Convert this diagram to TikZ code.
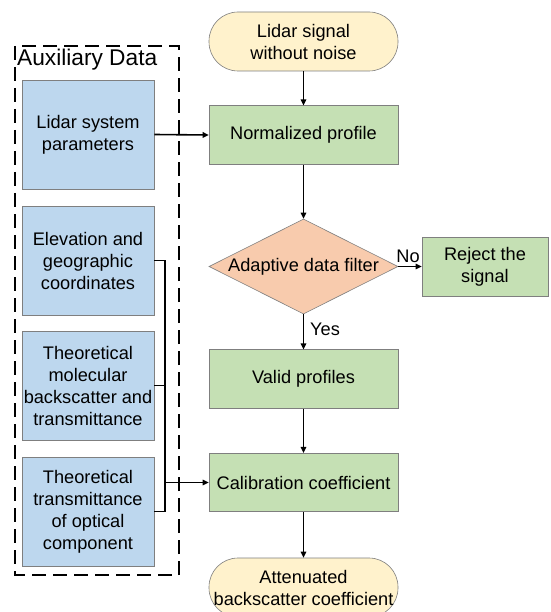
\documentclass[tikz,border=0pt]{standalone}
\usepackage{fontspec}
\setmainfont{Liberation Sans}
\usetikzlibrary{shapes.geometric,arrows.meta}
\definecolor{auxblue}{HTML}{BDD7EE}
\definecolor{procgreen}{HTML}{C5E0B4}
\definecolor{decorange}{HTML}{F8CBAD}
\definecolor{termyellow}{HTML}{FFF2CC}
\definecolor{edgegray}{HTML}{7F7F7F}
\tikzset{
  base/.style={draw=edgegray, line width=0.6pt, inner sep=0pt, align=center, font=\fontsize{18.2}{22}\selectfont},
  auxbox/.style={base, fill=auxblue, minimum width=132pt, minimum height=109pt},
  procbox/.style={base, fill=procgreen, minimum width=189pt, minimum height=58.5pt},
  termbox/.style={base, fill=termyellow, minimum width=189pt, minimum height=59pt, rounded corners=29pt},
  decbox/.style={base, shape=diamond, fill=decorange, minimum width=189pt, minimum height=95pt},
  conn/.style={line width=1.6pt, -{Triangle[length=6pt,width=5.5pt]}},
  line/.style={line width=1.6pt},
  lbl/.style={font=\fontsize{18.2}{22}\selectfont, inner sep=0pt}
}
\begin{document}
\begin{tikzpicture}[x=1pt,y=-1pt]
\clip (0,0) rectangle (550,612);
\fill[white] (0,0) rectangle (550,612);
% auxiliary frame
\draw[line width=2pt, dash pattern=on 14pt off 7pt] (15,46) rectangle (179,575);
\node[anchor=west, inner sep=0pt, font=\fontsize{22.7}{26}\selectfont] (auxtitle) at (17,60) {Auxiliary Data};
% auxiliary boxes
\node[auxbox] (a1) at (88,134.5) {Lidar system\\parameters};
\node[auxbox] (a2) at (88,260.5) {Elevation and\\geographic\\coordinates};
\node[auxbox] (a3) at (88,385.5) {Theoretical\\molecular\\backscatter and\\transmittance};
\node[auxbox] (a4) at (88,511.5) {Theoretical\\transmittance\\of optical\\component};
% main flow
\node[termbox] (t1) at (303.5,41.5) {Lidar signal\\without noise};
\node[procbox] (norm) at (303.5,135) {Normalized profile};
\node[decbox] (filt) at (303.5,266.5) {};
\node[lbl] (filttext) at (filt.center) {Adaptive data filter};
\node[procbox, minimum width=126pt, minimum height=59pt] (rej) at (485,266.5) {Reject the\\signal};
\node[procbox] (valid) at (303.5,379) {Valid profiles};
\node[procbox] (calib) at (303.5,482.5) {Calibration coefficient};
\node[termbox] (t2) at (303.5,587.5) {Attenuated\\backscatter coefficient};
% connectors
\draw[conn] (t1) -- (norm);
\draw[conn] (a1.east) -- (norm.west);
\draw[conn] (norm) -- (filt.north);
\draw[conn] (filt.east) -- (rej.west);
\node[lbl] (nolbl) at (408,256) {No};
\draw[conn] (filt.south) -- (valid.north);
\node[lbl] (yeslbl) at (325,329) {Yes};
\draw[conn] (valid) -- (calib);
\draw[conn] (calib) -- (t2);
% bracket
\coordinate (jtop) at (165,260.5);
\draw[line] (a2.east) -- (jtop) |- (a4.east);
\draw[line] (a3.east) -- (a3.east -| jtop);
\draw[conn] (jtop |- calib.west) -- (calib.west);
\end{tikzpicture}
\end{document}
